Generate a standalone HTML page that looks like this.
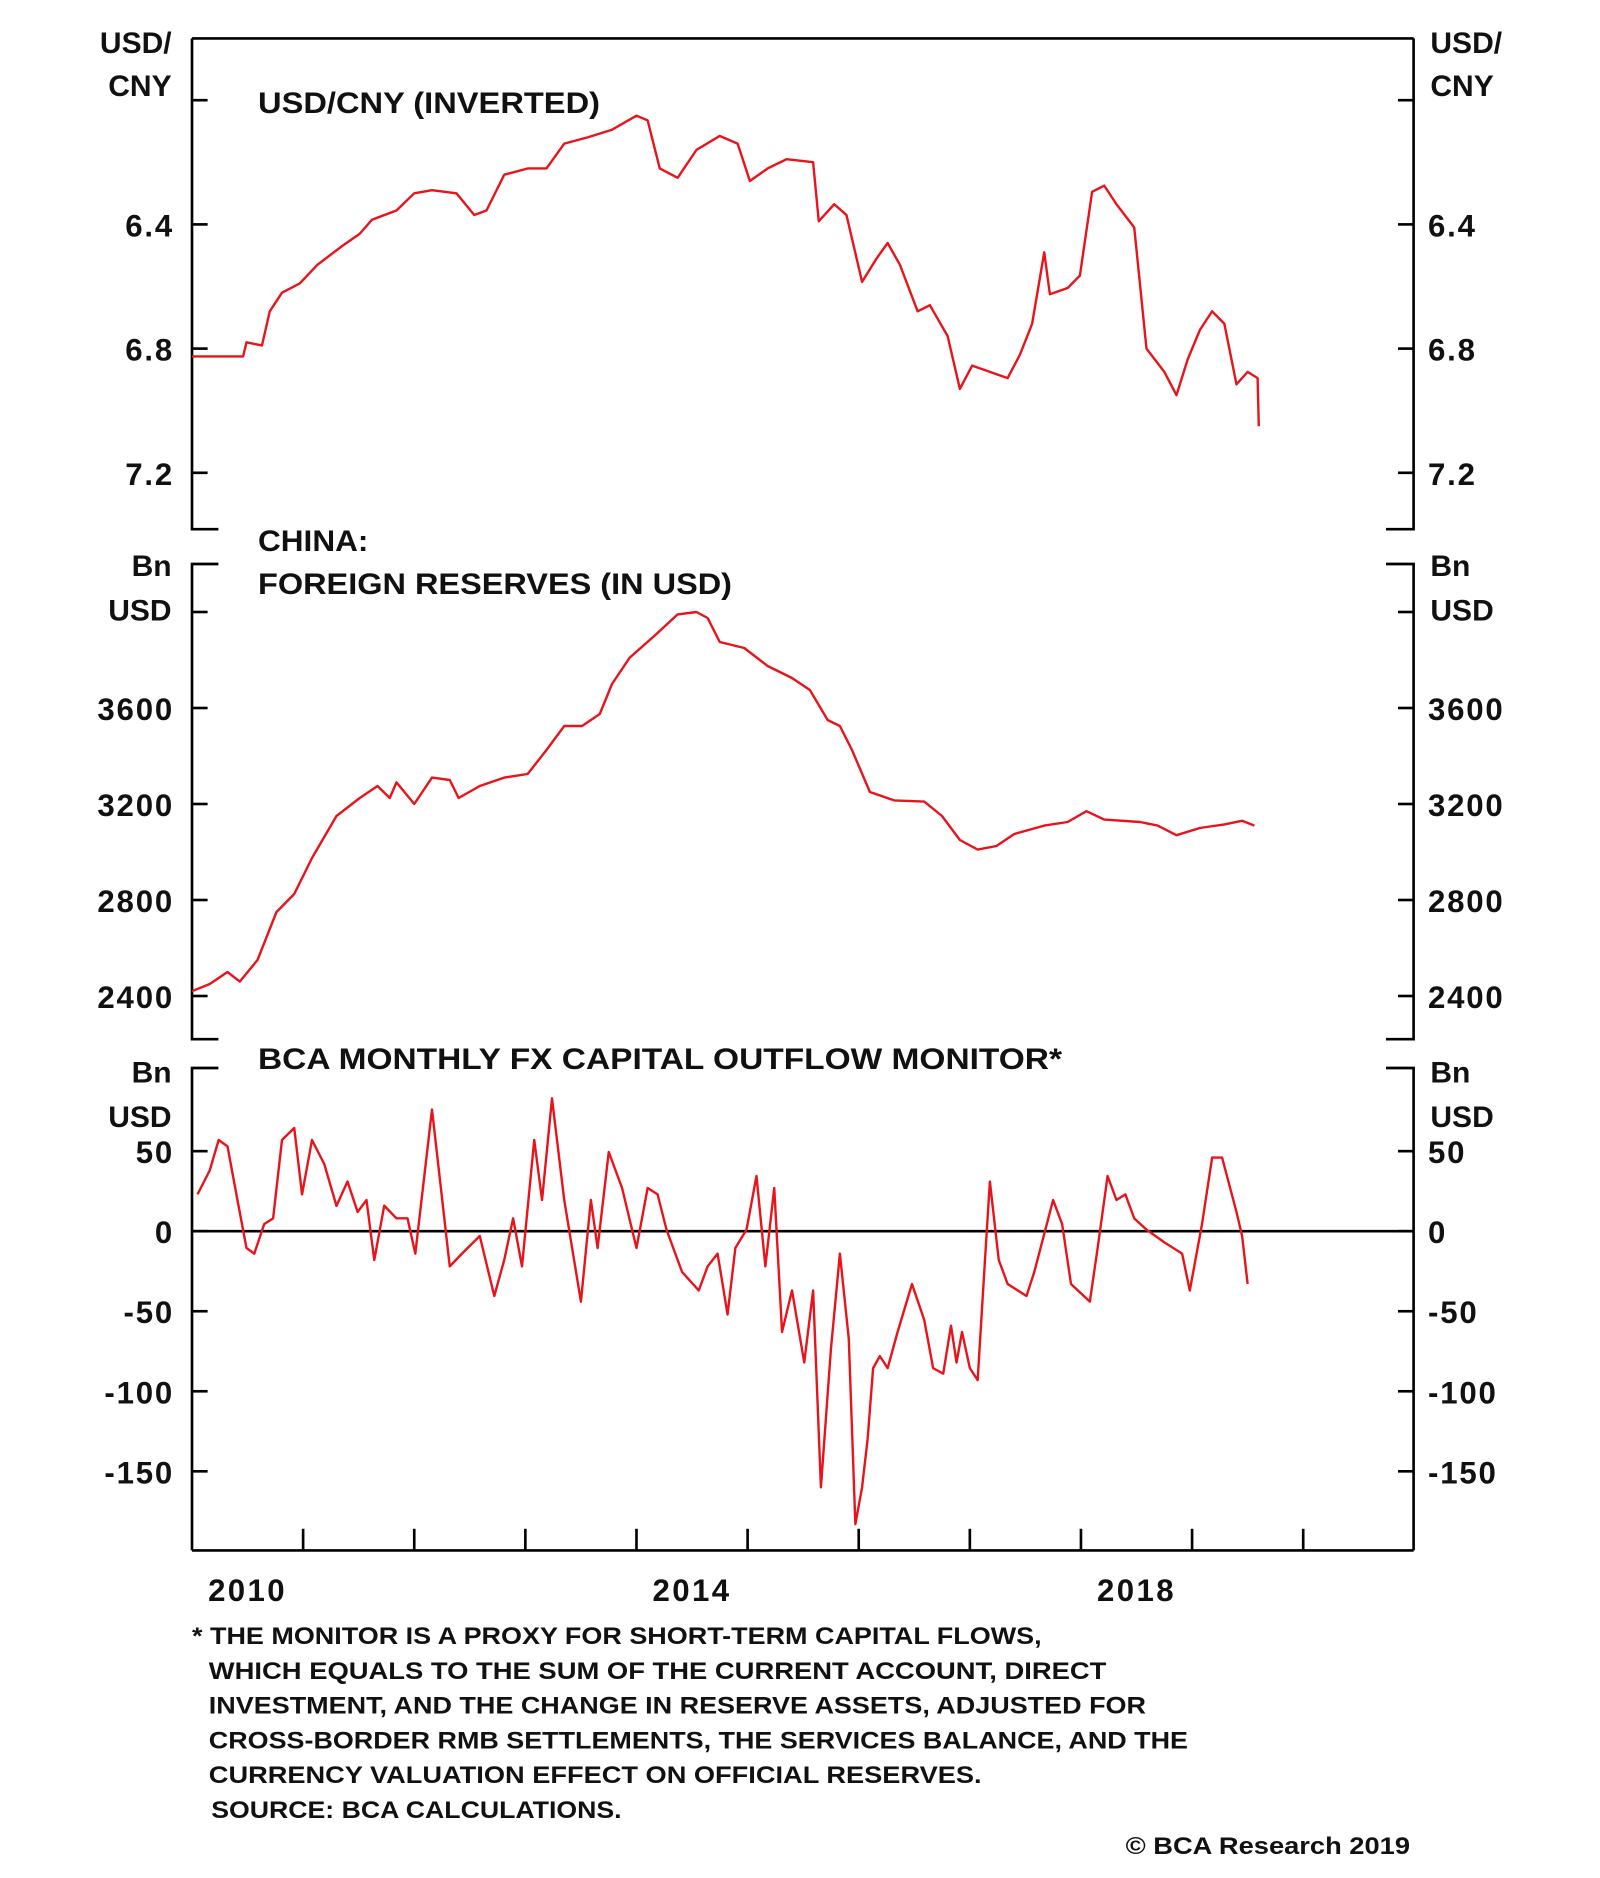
<!DOCTYPE html>
<html><head><meta charset="utf-8"><style>
html,body{margin:0;padding:0;background:#fff}
svg{display:block}
text{font-family:"Liberation Sans",sans-serif;font-weight:bold;fill:#111}
</style></head><body>
<svg id="chart" width="1600" height="1878" viewBox="0 0 1333.33 1565" xmlns="http://www.w3.org/2000/svg">
<g id="frame" stroke="#000" stroke-width="2.2" fill="none">
<path d="M160 32H1178M160 1292H1178"/>
<path d="M182 441H160V32M182 470H160V866H182M182 890H160V1292"/>
<path d="M1155 441H1178V32M1155 470H1178V866H1155M1155 890H1178V1292"/>
</g>
<g id="ticks" stroke="#000" stroke-width="2.2"></g>
<g id="labels"></g>
<g id="series"></g>
<g font-size="25">
<text x="215" y="94" textLength="285" lengthAdjust="spacingAndGlyphs">USD/CNY (INVERTED)</text>
<text x="215" y="459" textLength="92" lengthAdjust="spacingAndGlyphs">CHINA:</text>
<text x="215" y="495" textLength="395" lengthAdjust="spacingAndGlyphs">FOREIGN RESERVES (IN USD)</text>
<text x="215" y="891" textLength="670" lengthAdjust="spacingAndGlyphs">BCA MONTHLY FX CAPITAL OUTFLOW MONITOR*</text>
</g>
<g font-size="25">
<text x="143" y="44" text-anchor="end">USD/</text>
<text x="143" y="80" text-anchor="end">CNY</text>
<text x="1192" y="44">USD/</text>
<text x="1192" y="80">CNY</text>
<text x="143" y="480" text-anchor="end">Bn</text>
<text x="143" y="517" text-anchor="end">USD</text>
<text x="1192" y="480">Bn</text>
<text x="1192" y="517">USD</text>
<text x="143" y="902" text-anchor="end">Bn</text>
<text x="143" y="939" text-anchor="end">USD</text>
<text x="1192" y="902">Bn</text>
<text x="1192" y="939">USD</text>
</g>
<g font-size="20" lengthAdjust="spacingAndGlyphs">
<text x="160" y="1370" textLength="708" lengthAdjust="spacingAndGlyphs">* THE MONITOR IS A PROXY FOR SHORT-TERM CAPITAL FLOWS,</text>
<text x="174" y="1399" textLength="748" lengthAdjust="spacingAndGlyphs">WHICH EQUALS TO THE SUM OF THE CURRENT ACCOUNT, DIRECT</text>
<text x="174" y="1428" textLength="781" lengthAdjust="spacingAndGlyphs">INVESTMENT, AND THE CHANGE IN RESERVE ASSETS, ADJUSTED FOR</text>
<text x="174" y="1457" textLength="816" lengthAdjust="spacingAndGlyphs">CROSS-BORDER RMB SETTLEMENTS, THE SERVICES BALANCE, AND THE</text>
<text x="174" y="1486" textLength="644" lengthAdjust="spacingAndGlyphs">CURRENCY VALUATION EFFECT ON OFFICIAL RESERVES.</text>
<text x="176" y="1515" textLength="342" lengthAdjust="spacingAndGlyphs">SOURCE: BCA CALCULATIONS.</text>
</g>
<text x="938" y="1545" font-size="20" textLength="237" lengthAdjust="spacingAndGlyphs">© BCA Research 2019</text>
</svg>
<script>
const cnyDates=[2010.00,2010.46,2010.49,2010.63,2010.70,2010.81,2010.97,2011.13,2011.35,2011.51,2011.62,2011.84,2012.00,2012.16,2012.38,2012.54,2012.65,2012.81,2013.02,2013.19,2013.35,2013.56,2013.78,2014.00,2014.10,2014.21,2014.37,2014.54,2014.75,2014.91,2015.02,2015.18,2015.35,2015.59,2015.64,2015.78,2015.89,2016.03,2016.16,2016.26,2016.37,2016.53,2016.64,2016.80,2016.91,2017.02,2017.18,2017.34,2017.45,2017.56,2017.67,2017.72,2017.88,2017.99,2018.10,2018.21,2018.32,2018.48,2018.59,2018.75,2018.86,2018.96,2019.07,2019.18,2019.29,2019.40,2019.50,2019.59,2019.60];
const cnyValues=[6.825,6.825,6.78,6.79,6.68,6.62,6.59,6.53,6.47,6.43,6.385,6.355,6.30,6.29,6.30,6.37,6.355,6.24,6.22,6.22,6.14,6.12,6.095,6.05,6.065,6.22,6.25,6.16,6.115,6.14,6.26,6.22,6.19,6.20,6.39,6.335,6.37,6.585,6.51,6.46,6.53,6.68,6.66,6.76,6.93,6.855,6.875,6.895,6.82,6.72,6.49,6.625,6.605,6.565,6.295,6.275,6.335,6.41,6.80,6.875,6.95,6.835,6.74,6.68,6.72,6.915,6.875,6.895,7.05];
const resDates=[2010.00,2010.16,2010.32,2010.43,2010.59,2010.76,2010.92,2011.08,2011.30,2011.51,2011.67,2011.78,2011.84,2012.00,2012.16,2012.32,2012.40,2012.59,2012.81,2013.02,2013.19,2013.35,2013.51,2013.67,2013.78,2013.94,2014.16,2014.37,2014.54,2014.64,2014.75,2014.97,2015.18,2015.40,2015.56,2015.72,2015.83,2015.94,2016.10,2016.32,2016.59,2016.75,2016.91,2017.07,2017.24,2017.40,2017.67,2017.88,2018.05,2018.21,2018.53,2018.69,2018.86,2019.07,2019.29,2019.45,2019.56];
const resValues=[2420,2450,2500,2460,2550,2750,2825,2975,3150,3225,3275,3225,3290,3200,3310,3300,3225,3275,3310,3325,3425,3525,3525,3575,3700,3810,3900,3990,4000,3975,3875,3850,3775,3725,3675,3550,3525,3425,3250,3215,3210,3150,3050,3010,3025,3075,3110,3125,3170,3135,3125,3110,3070,3100,3115,3130,3110];
const monDates=[2010.05,2010.16,2010.24,2010.32,2010.40,2010.49,2010.56,2010.65,2010.73,2010.81,2010.92,2010.99,2011.08,2011.19,2011.30,2011.40,2011.49,2011.57,2011.64,2011.73,2011.84,2011.94,2012.01,2012.16,2012.32,2012.43,2012.59,2012.72,2012.81,2012.89,2012.97,2013.08,2013.15,2013.24,2013.35,2013.50,2013.59,2013.65,2013.75,2013.87,2014.00,2014.10,2014.19,2014.27,2014.41,2014.56,2014.64,2014.73,2014.82,2014.89,2014.99,2015.08,2015.16,2015.24,2015.31,2015.40,2015.51,2015.59,2015.66,2015.75,2015.83,2015.91,2015.97,2016.03,2016.08,2016.13,2016.19,2016.26,2016.35,2016.48,2016.59,2016.67,2016.76,2016.83,2016.88,2016.93,2017.00,2017.07,2017.13,2017.18,2017.26,2017.34,2017.51,2017.58,2017.75,2017.83,2017.91,2018.08,2018.15,2018.24,2018.32,2018.40,2018.48,2018.59,2018.75,2018.91,2018.98,2019.09,2019.18,2019.27,2019.40,2019.45,2019.50];
const monValues=[23,38,57,53,23,-10.5,-14,4.5,8,57,64.5,23,57,42,15.8,31,12,19.5,-18,16,8,8,-14,76,-22,-14,-3,-40.5,-18,8,-22,57,19.5,83,19.5,-44,19.5,-10.5,49.5,27,-10.5,27,23,1,-25.5,-37,-22,-14,-52,-10.5,1,34.5,-22,27,-63,-37,-82,-37,-160,-74,-14,-67,-183,-160,-130,-85.5,-78,-85.5,-63,-33,-55.5,-85.5,-89,-59,-82,-63,-85.5,-93,-25.5,31,-18,-33,-40.5,-25.5,19.5,4.5,-33,-44,-10.5,34.5,19.5,23,8,1,-7,-14,-37,4.5,46,46,12,-3,-33];
const cnyTicks=[6.0,6.4,6.8,7.2];
const cnyTickLabels=["","6.4","6.8","7.2"];
const resTicks=[4000,3600,3200,2800,2400];
const resTickLabels=["","3600","3200","2800","2400"];
const monTicks=[50,0,-50,-100,-150];
const monTickLabels=["50","0","-50","-100","-150"];
const yearTicks=[2011,2012,2013,2014,2015,2016,2017,2018,2019,2020];
const yearLabels=[2010,2014,2018];

const NS="http://www.w3.org/2000/svg";
const L=160,R=1178;
const xS=t=>L+(t-2010)*92.6;
const yCny=v=>187+(v-6.4)*258.75;
const yRes=v=>590-(v-3600)*0.2;
const yMon=v=>1026-v*(66.7/50);
function mk(tag,attrs,parent){const e=document.createElementNS(NS,tag);for(const k in attrs)e.setAttribute(k,attrs[k]);parent.appendChild(e);return e;}
const tk=document.getElementById('ticks'),lb=document.getElementById('labels'),sr=document.getElementById('series');
function axis(ticks,labels,yf,name){
  ticks.forEach((v,i)=>{
    const y=yf(v);
    const a=mk('line',{x1:L,x2:L+13,y1:y,y2:y},tk);
    
    
    const b=mk('line',{x1:R-13,x2:R,y1:y,y2:y},tk);
    
    
    if(labels[i]){
      const t1=mk('text',{x:145,y:y+10,'text-anchor':'end','font-size':26,'letter-spacing':1.5},lb);t1.textContent=labels[i];
      
      
      const t2=mk('text',{x:1190,y:y+10,'font-size':26,'letter-spacing':1.5},lb);t2.textContent=labels[i];
      
      
    }
  });
}
axis(cnyTicks,cnyTickLabels,yCny,'usd-cny-axis');
axis(resTicks,resTickLabels,yRes,'reserves-axis');
axis(monTicks,monTickLabels,yMon,'monitor-axis');
const z=mk('line',{x1:L,x2:R,y1:yMon(0),y2:yMon(0)},tk);


yearTicks.forEach(t=>{
  const e=mk('line',{x1:xS(t),x2:xS(t),y1:1292,y2:1274},tk);
  
  
});
yearLabels.forEach(t=>{
  const e=mk('text',{x:xS(t+0.5),y:1334,'text-anchor':'middle','font-size':26,'letter-spacing':2},lb);e.textContent=t;
  
  
});
function line(d,v,yf,name){
  const p=d.map((t,i)=>(i?'L':'M')+xS(t).toFixed(1)+' '+yf(v[i]).toFixed(1)).join('');
  const e=mk('path',{d:p,fill:'none',stroke:'#e8141c','stroke-width':2,'stroke-linejoin':'round'},sr);
  
  
}
line(cnyDates,cnyValues,yCny,'usd-cny-line');
line(resDates,resValues,yRes,'reserves-line');
line(monDates,monValues,yMon,'outflow-monitor-line');
</script>
</body></html>
